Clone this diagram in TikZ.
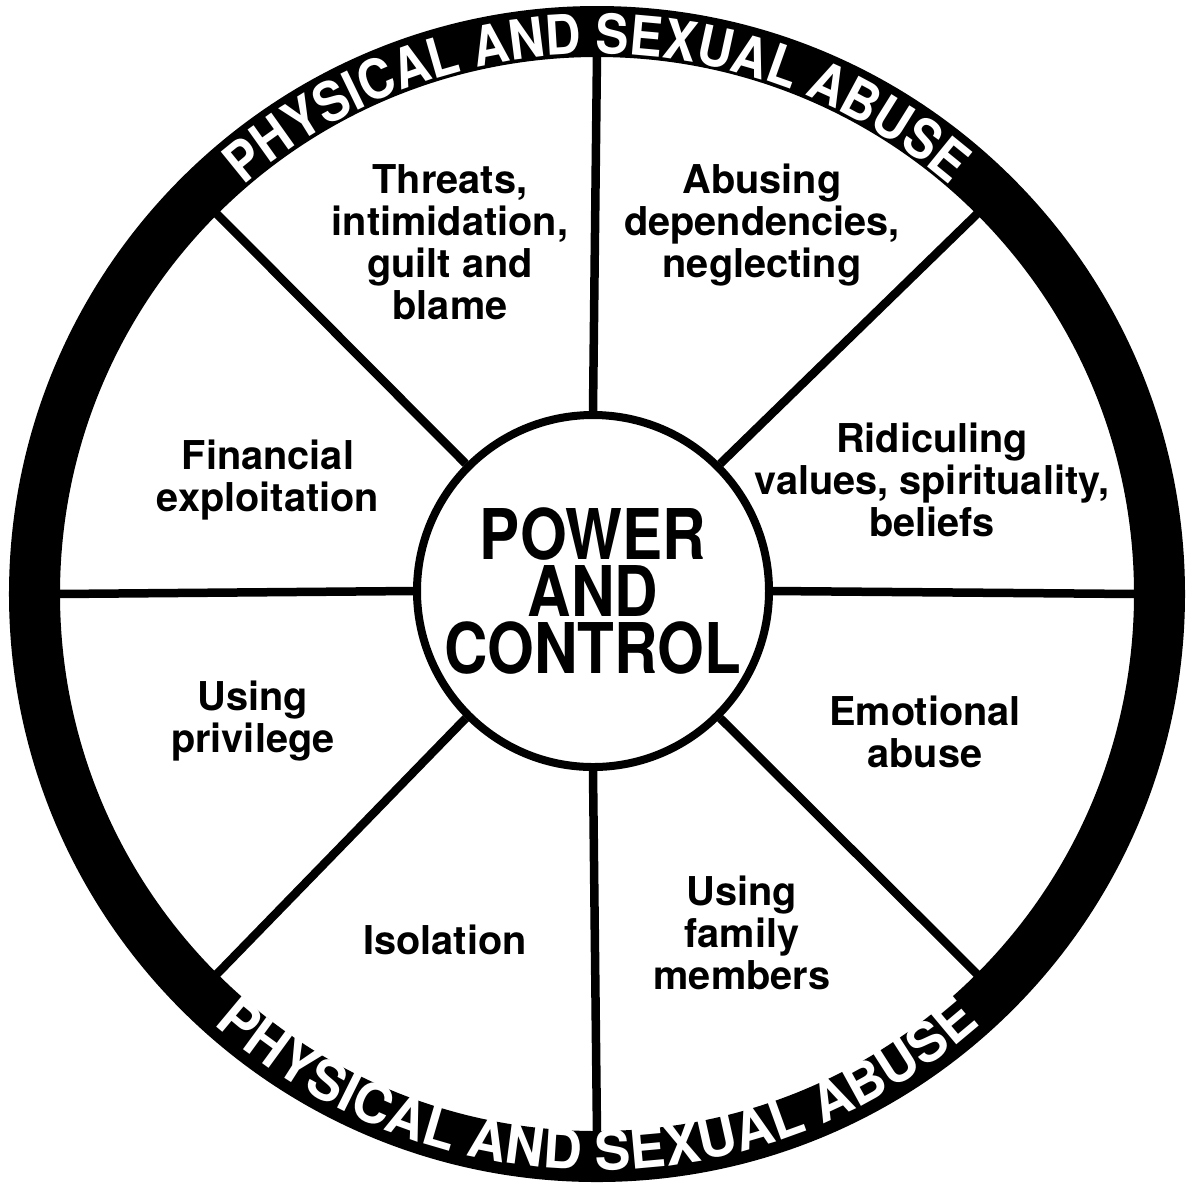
\documentclass[tikz,border=0pt]{standalone}
\usepackage{fontspec}
\setmainfont{TeX Gyre Heros}
\newfontfamily\hubfont[FakeStretch=0.86]{TeX Gyre Heros}
\newfontfamily\rimfont[FakeStretch=0.9]{TeX Gyre Heros}
\newfontfamily\rimwidefont[FakeStretch=0.98]{TeX Gyre Heros}
\usetikzlibrary{decorations.text}

\begin{document}
\begin{tikzpicture}[line width = 0.085cm,
  slice/.style = {align = center, font = \bfseries\fontsize{11.3}{11.95}\selectfont},
  hub/.style = {circle, draw, line width = 0.08cm, minimum size = 3.52cm, inner sep = 0pt, align = center,
    font = \hubfont\bfseries\fontsize{19.9}{16.2}\selectfont},
  rimtext/.style = {decorate, decoration = {text along path, text align = center,
    text = {|#1\bfseries\fontsize{15.6}{15.6}\selectfont\color{white}|PHYSICAL AND SEXUAL ABUSE}}}]
\useasboundingbox (-5.97, -5.91) rectangle (5.93, 5.94);
% rim and hub
\draw[line width = 0.51cm] (0, 0) circle (5.625);
\node[hub] (pc) at (-0.04, 0.03) {POWER\\AND\\CONTROL};
\foreach \a in {0, 45, ..., 315}{\coordinate (rim\a) at (\a:5.4);}
\foreach \a in {0, 45, ..., 315}{\draw (pc.\a) -- (rim\a);}
% the eight slices
\node[slice] (thr) at (-1.47, 3.52) {Threats,\\intimidation,\\guilt and\\blame};
\node[slice] (dep) at (1.65, 3.69) {Abusing\\dependencies,\\neglecting};
\node[slice] (rid) at (3.35, 1.14) {Ridiculing\\values, spirituality,\\beliefs};
\node[slice] (emo) at (3.28, -1.38) {Emotional\\abuse};
\node[slice] (fam) at (1.45, -3.39) {Using\\family\\members};
\node[slice] (iso) at (-1.52, -3.46) {Isolation};
\node[slice] (pri) at (-3.44, -1.27) {Using\\privilege};
\node[slice] (fin) at (-3.29, 1.14) {Financial\\exploitation};
% lettering on the rim
\path[rimtext = \rimfont] (160:5.40) arc[start angle = 160, end angle = 20, radius = 5.40];
\path[rimtext = \rimwidefont] (200:5.76) arc[start angle = 200, end angle = 340, radius = 5.76];
\end{tikzpicture}
\end{document}
